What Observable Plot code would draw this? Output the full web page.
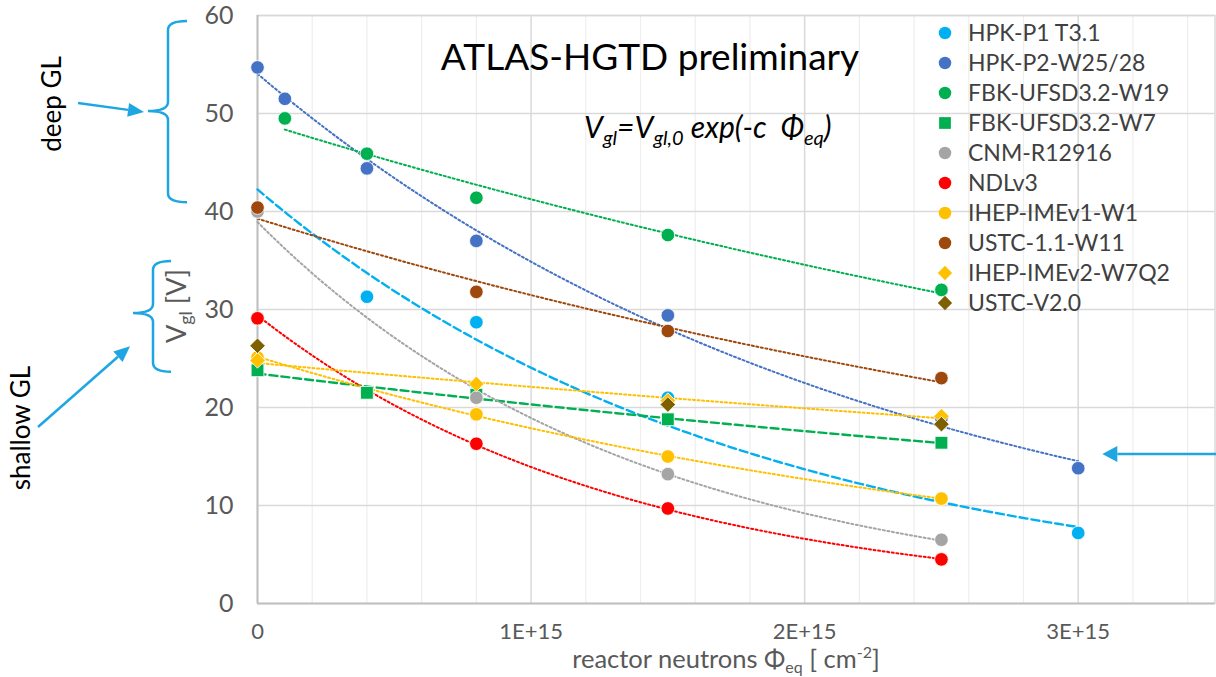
<!DOCTYPE html>
<html>
<head>
<meta charset="utf-8">
<script src="https://cdn.jsdelivr.net/npm/d3@7"></script>
<script src="https://cdn.jsdelivr.net/npm/@observablehq/plot@0.6"></script>
<style>
  body { margin: 0; background: #fff; }
  #chart { position: relative; width: 1216px; height: 677px; }
</style>
</head>
<body>
<div id="chart"></div>
<script>
// Gain-layer voltage V_gl [V] versus reactor neutron fluence Φ_eq [cm^-2]

const seriesNames = [
  "HPK-P1 T3.1", "HPK-P2-W25/28", "FBK-UFSD3.2-W19", "FBK-UFSD3.2-W7", "CNM-R12916",
  "NDLv3", "IHEP-IMEv1-W1", "USTC-1.1-W11", "IHEP-IMEv2-W7Q2", "USTC-V2.0"
];
const seriesColors = [
  "#00B0F0", "#4472C4", "#00B050", "#00B050", "#A5A5A5",
  "#FF0000", "#FFC000", "#9E480E", "#FFC000", "#7F6000"
];
const seriesSymbols = [
  "circle", "circle", "circle", "square", "circle",
  "circle", "circle", "circle", "diamond2", "diamond2"
];
// trendline style per series ("none" = no exponential fit drawn)
const trendStyles = [
  "dashed", "dotted", "dotted", "dashed", "dotted",
  "dotted", "dotted", "dotted", "dotted", "none"
];

// measurements: fluence [cm^-2] and V_gl [V]
const hpkP1Phi   = [0, 0.4e15, 0.8e15, 1.5e15, 3.0e15];
const hpkP1V     = [40.0, 31.3, 28.7, 21.0, 7.2];
const hpkP2Phi   = [0, 0.1e15, 0.4e15, 0.8e15, 1.5e15, 2.5e15, 3.0e15];
const hpkP2V     = [54.7, 51.5, 44.4, 37.0, 29.4, 18.9, 13.8];
const fbkW19Phi  = [0.1e15, 0.4e15, 0.8e15, 1.5e15, 2.5e15];
const fbkW19V    = [49.5, 45.9, 41.4, 37.6, 32.0];
const fbkW7Phi   = [0, 0.4e15, 0.8e15, 1.5e15, 2.5e15];
const fbkW7V     = [23.8, 21.5, 21.3, 18.8, 16.4];
const cnmPhi     = [0, 0.8e15, 1.5e15, 2.5e15];
const cnmV       = [40.0, 21.0, 13.2, 6.5];
const ndlPhi     = [0, 0.8e15, 1.5e15, 2.5e15];
const ndlV       = [29.1, 16.3, 9.7, 4.5];
const ihepV1Phi  = [0, 0.8e15, 1.5e15, 2.5e15];
const ihepV1V    = [25.1, 19.3, 15.0, 10.7];
const ustc11Phi  = [0, 0.8e15, 1.5e15, 2.5e15];
const ustc11V    = [40.4, 31.8, 27.8, 23.0];
const ihepV2Phi  = [0, 0.8e15, 1.5e15, 2.5e15];
const ihepV2V    = [24.8, 22.4, 20.7, 19.1];
const ustcV20Phi = [0, 1.5e15, 2.5e15];
const ustcV20V   = [26.3, 20.3, 18.3];

const seriesPhi = [hpkP1Phi, hpkP2Phi, fbkW19Phi, fbkW7Phi, cnmPhi, ndlPhi, ihepV1Phi, ustc11Phi, ihepV2Phi, ustcV20Phi];
const seriesV   = [hpkP1V, hpkP2V, fbkW19V, fbkW7V, cnmV, ndlV, ihepV1V, ustc11V, ihepV2V, ustcV20V];

// axis ticks
const xTicks = [0, 1e15, 2e15, 3e15];
const xTickLabels = ["0", "1E+15", "2E+15", "3E+15"];
const xMinorTicks = [0.2, 0.4, 0.6, 0.8, 1.2, 1.4, 1.6, 1.8, 2.2, 2.4, 2.6, 2.8, 3.2, 3.4].map(v => v * 1e15);
const yTicks = [0, 10, 20, 30, 40, 50, 60];
const yTickLabels = ["0", "10", "20", "30", "40", "50", "60"];

// tidy rows
const points = seriesNames.map((name, s) =>
  seriesPhi[s].map((phi, i) => ({ series: name, phi, v: seriesV[s][i] })));

// exponential trendline V = V0 exp(-c Φ), least squares on ln V over each series' range
function expTrend(phis, vs) {
  const lx = phis, ly = vs.map(Math.log);
  const mx = d3.mean(lx), my = d3.mean(ly);
  const b = d3.sum(lx, (x, i) => (x - mx) * (ly[i] - my)) / d3.sum(lx, x => (x - mx) ** 2);
  const a = my - b * mx;
  const [lo, hi] = d3.extent(phis);
  return d3.range(0, 81).map(k => {
    const phi = lo + (hi - lo) * k / 80;
    return { phi, v: Math.exp(a + b * phi) };
  });
}

const dashFor = { dotted: "2,2.6", dashed: "8,4" };
const widthFor = { dotted: 2, dashed: 2.4 };

const trendMarks = seriesNames.flatMap((name, s) => {
  const style = trendStyles[s];
  if (style === "none") return [];
  return [Plot.line(expTrend(seriesPhi[s], seriesV[s]), {
    x: "phi", y: "v", stroke: seriesColors[s],
    strokeWidth: widthFor[style], strokeDasharray: dashFor[style], curve: "linear"
  })];
});

const rFor = { circle: 6.8, square: 7.2, diamond2: 7.0 };
const dotMarks = seriesNames.map((name, s) =>
  Plot.dot(points[s], {
    x: "phi", y: "v", symbol: seriesSymbols[s], r: rFor[seriesSymbols[s]],
    fill: seriesColors[s], stroke: "white", strokeWidth: 0.8
  }));

const W = 1216, H = 677;
const chart = Plot.plot({
  width: W, height: H,
  marginLeft: 257, marginRight: 1.5, marginTop: 15, marginBottom: 74,
  style: { fontFamily: "Lato, 'Open Sans', sans-serif", background: "white", color: "#595959" },
  x: { domain: [0, 3.5e15] },
  y: { domain: [0, 60] },
  marks: [
    Plot.ruleX(xMinorTicks, { stroke: "#EEEEEE", strokeWidth: 1.2 }),
    Plot.ruleX(xTicks.slice(1), { stroke: "#D9D9D9", strokeWidth: 1.5 }),
    Plot.ruleY(yTicks.slice(1), { stroke: "#D9D9D9", strokeWidth: 1.5 }),
    Plot.frame({ stroke: "#D9D9D9", strokeWidth: 1.5 }),
    Plot.ruleX([0], { stroke: "#BFBFBF", strokeWidth: 2 }),
    Plot.ruleY([0], { stroke: "#BFBFBF", strokeWidth: 2 }),
    ...trendMarks,
    ...dotMarks,
    Plot.axisX({
      ticks: xTicks, tickFormat: d => xTickLabels[xTicks.indexOf(d)],
      tickSize: 0, tickPadding: 20, fontSize: 22, label: null, fill: "#595959"
    }),
    Plot.axisY({
      ticks: yTicks, tickFormat: d => yTickLabels[yTicks.indexOf(d)],
      tickSize: 0, tickPadding: 24, fontSize: 25, label: null, fill: "#595959"
    })
  ]
});
document.getElementById("chart").appendChild(chart);

// annotations drawn on top of the plot, positioned through the plot's scales
const sx = chart.scale("x"), sy = chart.scale("y");
const svg = d3.select(chart);
const left = sx.apply(0);
const annBlue = "#1EA6E2";
const font = "Lato, 'Open Sans', sans-serif";

// title and fit formula
svg.append("text")
  .attr("x", 650).attr("y", 70).attr("text-anchor", "middle")
  .attr("font-family", font).attr("font-size", 37).attr("fill", "#000")
  .text("ATLAS-HGTD preliminary");

const formula = svg.append("text")
  .attr("x", 584).attr("y", 138).attr("text-anchor", "start")
  .attr("font-family", font).attr("font-size", 30).attr("font-style", "italic").attr("fill", "#000");
formula.append("tspan").text("V");
formula.append("tspan").attr("font-size", 20).attr("dy", 7).text("gl");
formula.append("tspan").attr("dy", -7).text("=V");
formula.append("tspan").attr("font-size", 20).attr("dy", 7).text("gl,0");
formula.append("tspan").attr("dy", -7).text(" exp(-c  \u03A6");
formula.append("tspan").attr("font-size", 20).attr("dy", 7).text("eq");
formula.append("tspan").attr("dy", -7).text(")");

// legend
const legend = svg.append("g").attr("text-anchor", "start");
seriesNames.forEach((name, s) => {
  const cy = 33 + s * 30;
  const sym = { circle: d3.symbolCircle, square: d3.symbolSquare, diamond2: d3.symbolDiamond2 }[seriesSymbols[s]];
  const r = rFor[seriesSymbols[s]] * 0.92;
  legend.append("path")
    .attr("transform", `translate(945,${cy})`)
    .attr("d", d3.symbol(sym, Math.PI * r * r)())
    .attr("fill", seriesColors[s]);
  legend.append("text")
    .attr("x", 968).attr("y", cy).attr("dy", "0.36em")
    .attr("font-family", font).attr("font-size", 23).attr("fill", "#404040")
    .text(name);
});

// x-axis title
const xt = svg.append("text")
  .attr("x", 726).attr("y", 668).attr("text-anchor", "middle")
  .attr("font-family", font).attr("font-size", 25.5).attr("fill", "#595959");
xt.append("tspan").text("reactor neutrons \u03A6");
xt.append("tspan").attr("font-size", 16).attr("dy", 5).text("eq");
xt.append("tspan").attr("dy", -5).text(" [ cm");
xt.append("tspan").attr("font-size", 16).attr("dy", -10).text("-2");
xt.append("tspan").attr("dy", 10).text("]");

// y-axis title, rotated
const yt = svg.append("text")
  .attr("transform", `translate(186,306) rotate(-90)`)
  .attr("text-anchor", "middle")
  .attr("font-family", font).attr("font-size", 27).attr("fill", "#595959");
yt.append("tspan").text("V");
yt.append("tspan").attr("font-size", 18).attr("dy", 6).text("gl");
yt.append("tspan").attr("dy", -6).text(" [V]");

// braces grouping the deep and shallow gain-layer ranges
function brace(yTop, yBottom, yTip, xv, xHook, xTip) {
  const r = 9;
  return `M${xHook},${yTop} Q${xv},${yTop} ${xv},${yTop + r}` +
    ` L${xv},${yTip - r} Q${xv},${yTip} ${xTip},${yTip}` +
    ` Q${xv},${yTip} ${xv},${yTip + r}` +
    ` L${xv},${yBottom - r} Q${xv},${yBottom} ${xHook},${yBottom}`;
}
svg.append("path")
  .attr("d", brace(sy.apply(59.4), sy.apply(40.9), sy.apply(50.2), left - 89, left - 70, left - 109))
  .attr("fill", "none").attr("stroke", annBlue).attr("stroke-width", 2.5);
svg.append("path")
  .attr("d", brace(sy.apply(34.9), sy.apply(23.6), sy.apply(29.6), left - 104, left - 86, left - 124))
  .attr("fill", "none").attr("stroke", annBlue).attr("stroke-width", 2.5);

function arrow(x1, y1, x2, y2, len = 16, half = 7) {
  const a = Math.atan2(y2 - y1, x2 - x1);
  const bx = x2 - len * Math.cos(a), by = y2 - len * Math.sin(a);
  svg.append("line").attr("x1", x1).attr("y1", y1).attr("x2", bx).attr("y2", by)
    .attr("stroke", annBlue).attr("stroke-width", 2.5);
  const px = -Math.sin(a) * half, py = Math.cos(a) * half;
  svg.append("path")
    .attr("d", `M${x2},${y2} L${bx + px},${by + py} L${bx - px},${by - py} Z`)
    .attr("fill", annBlue);
}
arrow(78, 103, left - 113, sy.apply(50.2) + 1);
arrow(38, 427, left - 127, sy.apply(26.2));
arrow(W, sy.apply(15.2), sx.apply(3.09e15), sy.apply(15.2), 15, 8);

// side labels
svg.append("text")
  .attr("transform", `translate(52,104) rotate(-90)`)
  .attr("text-anchor", "middle").attr("dy", "0.35em")
  .attr("font-family", font).attr("font-size", 26).attr("fill", "#000")
  .text("deep GL");
svg.append("text")
  .attr("transform", `translate(21,428) rotate(-90)`)
  .attr("text-anchor", "middle").attr("dy", "0.35em")
  .attr("font-family", font).attr("font-size", 26).attr("fill", "#000")
  .text("shallow GL");
</script>
</body>
</html>
